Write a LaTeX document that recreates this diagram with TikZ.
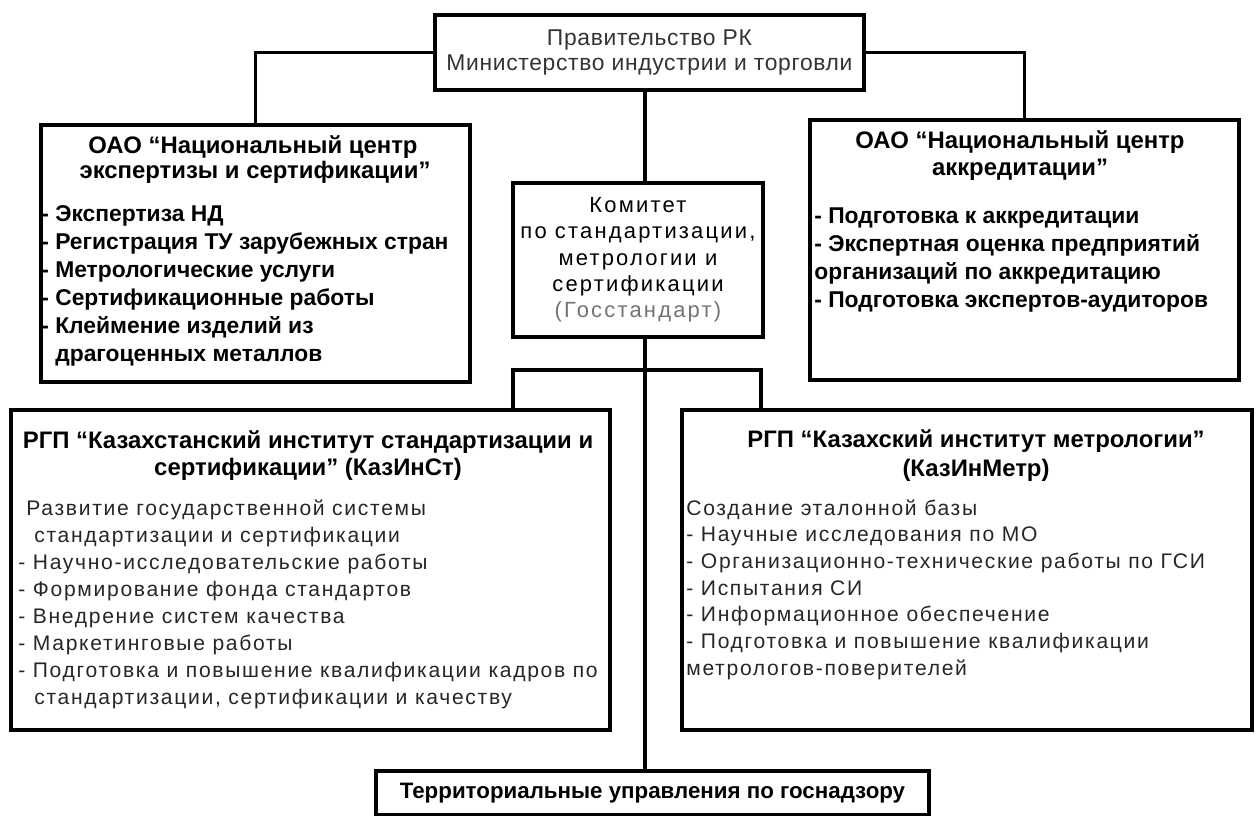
\documentclass[tikz,border=0pt]{standalone}
\usepackage{fontspec}
\setmainfont{Liberation Sans}
\newfontfamily\thinfont[LetterSpace=8]{Liberation Sans}
\newfontfamily\govfont[LetterSpace=3]{Liberation Sans}
\newfontfamily\cttfont[LetterSpace=10]{Liberation Sans}
\newlength\px
\setlength\px{0.02cm}

\begin{document}
\begin{tikzpicture}[
    x=1\px, y=-1\px,
    box/.style={draw, line width=2.2pt, inner sep=0pt, anchor=north west},
    head/.style={anchor=base, inner sep=0pt, font=\fontsize{13.6}{15}\bfseries},
    item/.style={anchor=base west, inner sep=0pt, font=\fontsize{13}{15}\bfseries},
    thin/.style={anchor=base west, inner sep=0pt, font=\fontsize{12}{15}\thinfont, text=black!85},
    link/.style={line width=2pt}]
    \useasboundingbox (0,0) rectangle (1256,815);

    % boxes
    \node[box, minimum width=429\px, minimum height=75\px, align=center, text=black!80,
          font=\fontsize{13}{14.7}\govfont] (gov) at (433,13)
          {Правительство РК\\Министерство индустрии и торговли};
    \node[box, minimum width=429\px, minimum height=257\px] (nces) at (39,123) {};
    \node[box, minimum width=429\px, minimum height=260\px] (nca) at (808,118) {};
    \node[box, minimum width=250\px, minimum height=154\px, align=center,
          font=\fontsize{12.5}{15}\cttfont] (cttee) at (511,181)
          {Комитет\\по стандартизации,\\метрологии и\\сертификации\\\textcolor{black!55}{(Госстандарт)}};
    \node[box, minimum width=599\px, minimum height=320\px] (kazinst) at (9,408) {};
    \node[box, minimum width=570\px, minimum height=320\px] (kazinmetr) at (680,408) {};
    \node[box, minimum width=553\px, minimum height=44\px,
          font=\fontsize{12.7}{15}\bfseries] (terr) at (374,769)
          {Территориальные управления по госнадзору};

    % national centre of expertise
    \node[head] (nces-h1) at (253,153) {ОАО “Национальный центр};
    \node[head] (nces-h2) at (255,178) {экспертизы и сертификации”};
    \foreach \s [count=\i from 0] in {- Экспертиза НД, - Регистрация ТУ зарубежных стран,
        - Метрологические услуги, - Сертификационные работы, - Клеймение изделий из,
        {\phantom{- }драгоценных металлов}}
        \node[item] (nces-\i) at (41,221+28*\i) {\s};

    % national centre of accreditation
    \node[head] (nca-h1) at (1020,148) {ОАО “Национальный центр};
    \node[head] (nca-h2) at (1020,175) {аккредитации”};
    \foreach \s [count=\i from 0] in {- Подготовка к аккредитации, - Экспертная оценка предприятий,
        организаций по аккредитацию, - Подготовка экспертов-аудиторов}
        \node[item] (nca-\i) at (814,223+28*\i) {\s};

    % KazInSt
    \node[head] (kazinst-h1) at (308,448) {РГП “Казахстанский институт стандартизации и};
    \node[head] (kazinst-h2) at (308,475) {сертификации” (КазИнСт)};
    \foreach \s [count=\i from 0] in {{\hspace{8\px}Развитие государственной системы},
        {\hspace{16\px}стандартизации и сертификации}, - Научно-исследовательские работы,
        - Формирование фонда стандартов, - Внедрение систем качества, - Маркетинговые работы,
        - Подготовка и повышение квалификации кадров по,
        {\hspace{16\px}стандартизации, сертификации и качеству}}
        \node[thin] (kazinst-\i) at (18,515+27*\i) {\s};

    % KazInMetr
    \node[head] (kazinmetr-h1) at (976,447) {РГП “Казахский институт метрологии”};
    \node[head] (kazinmetr-h2) at (976,476) {(КазИнМетр)};
    \foreach \s [count=\i from 0] in {Создание эталонной базы, - Научные исследования по МО,
        - Организационно-технические работы по ГСИ, - Испытания СИ, - Информационное обеспечение,
        - Подготовка и повышение квалификации, метрологов-поверителей}
        \node[thin] (kazinmetr-\i) at (686,515+26.7*\i) {\s};

    % connectors
    \coordinate (spine) at (645,0);
    \coordinate (brl) at (513,370);
    \coordinate (brr) at (761,370);
    \draw[link] (gov.west) -| (nces.north);
    \draw[link] (gov.east) -| (nca.north);
    \draw[link] (gov.south -| spine) -- (cttee.north -| spine);
    \draw[link] (cttee.south -| spine) -- (terr.north -| spine);
    \draw[link] (kazinst.north -| brl) -- (brl) -- (brr) -- (kazinmetr.north -| brr);
\end{tikzpicture}
\end{document}
